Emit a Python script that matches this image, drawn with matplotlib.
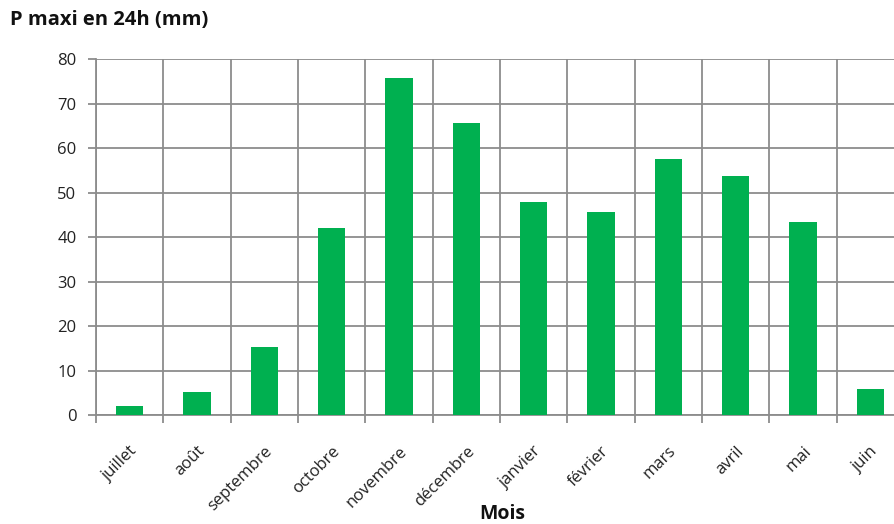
import matplotlib
matplotlib.use("Agg")
import matplotlib.pyplot as plt
import numpy as np

months = ["juillet", "août", "septembre", "octobre", "novembre", "décembre",
          "janvier", "février", "mars", "avril", "mai", "juin"]
pmax = [2.1, 5.3, 15.3, 42.1, 75.7, 65.6, 47.8, 45.7, 57.6, 53.8, 43.3, 6.0]
yticks = [0, 10, 20, 30, 40, 50, 60, 70, 80]

plt.rcParams['font.family'] = ['Open Sans', 'DejaVu Sans']

fig = plt.figure(figsize=(8.94, 5.24), dpi=100)
ax = fig.add_axes([96/894, 108.7/524, (904-96)/894, (415.3-59)/524])

x = np.arange(len(months))
ax.bar(x, pmax, width=0.41, color="#00B050", zorder=3)

grid_c = "#8c8c8c"
ax.set_xlim(-0.5, len(months) - 0.5)
ax.set_ylim(0, 80)
ax.set_yticks(yticks)
ax.set_xticks(x)
ax.set_xticklabels(months, rotation=45, ha='right', rotation_mode='anchor', fontsize=12, color="#222222")
ax.set_xticks(np.arange(-0.5, len(months), 1.0), minor=True)
ax.tick_params(axis='x', which='major', length=0, pad=20)
ax.tick_params(axis='x', which='minor', length=6, width=1.3, color=grid_c)
ax.tick_params(axis='y', length=6, width=1.3, color=grid_c, labelsize=12, labelcolor="#222222", pad=8)
ax.grid(True, axis='y', which='major', color=grid_c, linewidth=1.3, zorder=0)
ax.grid(True, axis='x', which='minor', color=grid_c, linewidth=1.3, zorder=0)
for s in ['top', 'right']:
    ax.spines[s].set_visible(False)
for s in ['left', 'bottom']:
    ax.spines[s].set_color(grid_c)
    ax.spines[s].set_linewidth(1.3)

fig.text(10/894, 1 - 20/524, "P maxi en 24h (mm)", fontsize=14.5, fontweight='bold', ha='left', va='center', color="#111111")
fig.text(502/894, 1 - 514/524, "Mois", fontsize=14, fontweight='bold', ha='center', va='center', color="#111111")

fig.savefig("out.png", dpi=100)
